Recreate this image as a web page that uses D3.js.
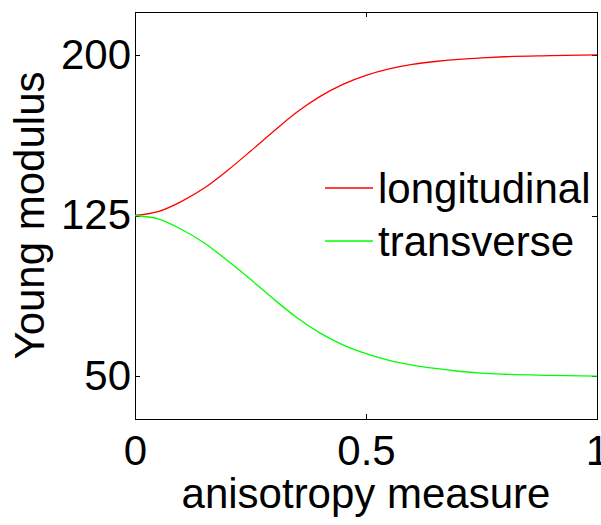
<!DOCTYPE html>
<html lang="en">
<head>
<meta charset="utf-8">
<title>Young modulus vs anisotropy</title>
<script src="https://d3js.org/d3.v7.min.js"></script>
<style>
    body {
        margin: 0;
        background: white;
    }
    .axis path,
    .axis line {
        fill: none;
        stroke: black;
        stroke-width: 1;
        shape-rendering: crispEdges;
    }
    .axis text,
    .label,
    .legend text {
        font-family: "Liberation Sans", Arial, sans-serif;
        font-size: 42px;
        fill: black;
    }
    .line {
        fill: none;
        stroke-width: 1.3;
    }
</style>
</head>
<body>
<div id="graph"></div>
<script>

// anisotropy measure (x) and the two moduli
var xs = [0, 0.05, 0.1, 0.15, 0.2, 0.25, 0.3, 0.35, 0.4, 0.45, 0.5, 0.55, 0.6, 0.65, 0.7, 0.75, 0.8, 0.9, 1];
var longitudinal = [125, 126.8, 131.5, 137.8, 146, 155, 164.3, 173.2, 180.5, 186.2, 190.4, 193.4, 195.5, 196.9, 197.9, 198.6, 199.1, 199.6, 200];
var transverse = [125, 123.4, 118.6, 112.2, 104, 95.2, 86, 77.4, 70.2, 64.6, 60.5, 57.4, 55.2, 53.6, 52.3, 51.4, 50.9, 50.4, 50];

var xTicks = [0, 0.5, 1];
var yTicks = [50, 125, 200];
var seriesNames = ["longitudinal", "transverse"];
var seriesColors = ["#ff0000", "#00ff00"];

var margin = {top: 12, right: 4, bottom: 106, left: 135},
    width = 601 - margin.left - margin.right,
    height = 525 - margin.top - margin.bottom;

var svg = d3.select("#graph").append("svg")
    .attr("width", width + margin.left + margin.right)
    .attr("height", height + margin.top + margin.bottom)
    .append("g")
    .attr("transform", "translate(" + margin.left + "," + margin.top + ")");

var x_scale = d3.scaleLinear().domain([0, 1]).range([0, width]);
var y_scale = d3.scaleLinear().domain([30, 220]).range([height, 0]);

// box
svg.append("rect")
    .attr("width", width)
    .attr("height", height)
    .attr("fill", "none")
    .attr("stroke", "black")
    .attr("shape-rendering", "crispEdges");

// bottom + left axes, ticks pointing inward
svg.append("g")
    .attr("class", "axis")
    .attr("transform", "translate(0," + height + ")")
    .call(d3.axisBottom(x_scale).tickValues(xTicks).tickFormat(d3.format("")).tickSizeInner(-5).tickSizeOuter(0).tickPadding(16));

svg.append("g")
    .attr("class", "axis")
    .call(d3.axisLeft(y_scale).tickValues(yTicks).tickSizeInner(-5).tickSizeOuter(0).tickPadding(4));

// mirrored ticks on top and right
svg.append("g")
    .attr("class", "axis")
    .call(d3.axisTop(x_scale).tickValues(xTicks).tickFormat("").tickSizeInner(-5).tickSizeOuter(0));

svg.append("g")
    .attr("class", "axis")
    .attr("transform", "translate(" + width + ",0)")
    .call(d3.axisRight(y_scale).tickValues(yTicks).tickFormat("").tickSizeInner(-5).tickSizeOuter(0));

svg.selectAll(".axis .domain").remove();

var line = d3.line()
    .x(function(d) { return x_scale(d[0]); })
    .y(function(d) { return y_scale(d[1]); })
    .curve(d3.curveMonotoneX);

[longitudinal, transverse].forEach(function(vals, i) {
    svg.append("path")
        .datum(xs.map(function(x, j) { return [x, vals[j]]; }))
        .attr("class", "line")
        .attr("stroke", seriesColors[i])
        .attr("d", line);
});

// legend (no box)
var legend = svg.append("g").attr("class", "legend");
seriesNames.forEach(function(name, i) {
    var ly = 176 + i * 53;
    legend.append("line")
        .attr("x1", 190).attr("x2", 238)
        .attr("y1", ly).attr("y2", ly)
        .attr("stroke", seriesColors[i])
        .attr("stroke-width", 1.3);
    legend.append("text")
        .attr("x", 243)
        .attr("y", ly + 15)
        .text(name);
});

// axis labels
svg.append("text")
    .attr("class", "label")
    .attr("x", width / 2)
    .attr("y", height + 89)
    .attr("text-anchor", "middle")
    .text("anisotropy measure");

svg.append("text")
    .attr("class", "label")
    .attr("transform", "translate(" + (-91) + "," + (height / 2) + ") rotate(-90)")
    .attr("text-anchor", "middle")
    .text("Young modulus");

</script>
</body>
</html>
